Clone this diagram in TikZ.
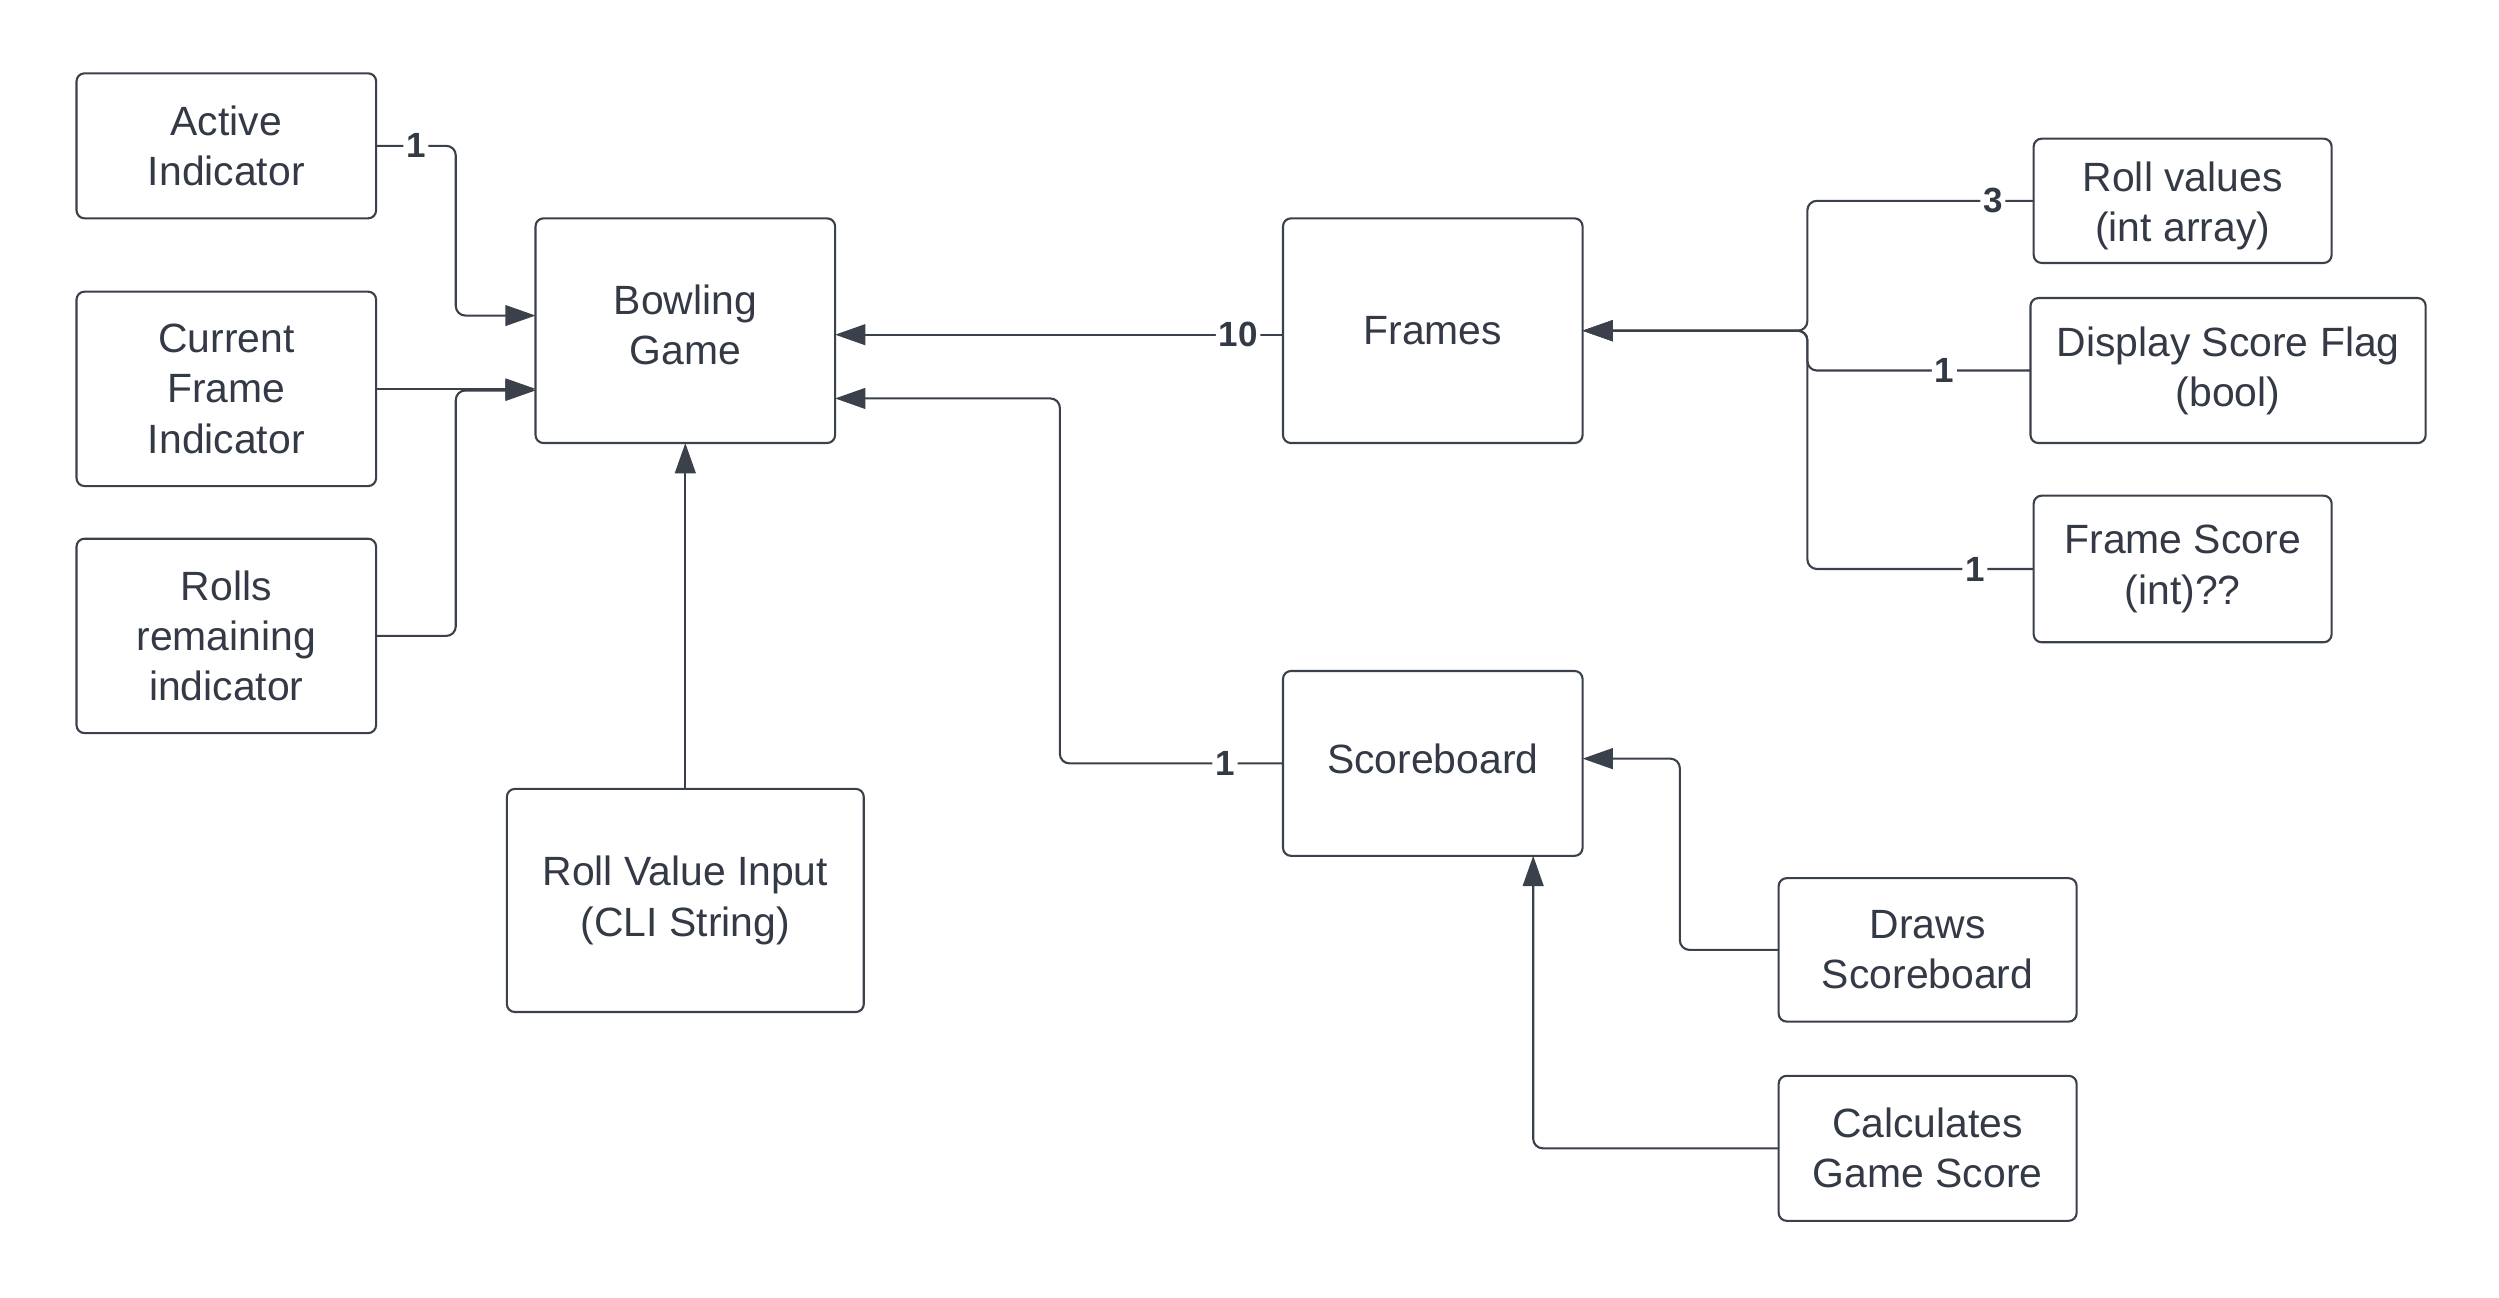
\documentclass[tikz,border=0pt]{standalone}
\usepackage{fontspec}
\setmainfont{Liberation Sans}
\usetikzlibrary{arrows.meta,calc}
\definecolor{ln}{HTML}{3A414A}
\definecolor{tx}{HTML}{333A45}
\begin{document}
\begin{tikzpicture}[x=0.02cm,y=-0.02cm,
  box/.style={draw=ln, line width=0.75pt, rounded corners=0.1cm, align=center, text=tx,
    font=\fontsize{14.6}{17.9}\selectfont, inner sep=2pt, outer sep=0pt},
  conn/.style={draw=ln, line width=0.75pt, rounded corners=0.12cm},
  arr/.style={conn, -{Triangle[length=0.38cm,width=0.26cm]}},
  lbl/.style={fill=white, inner sep=1pt, text=tx, font=\fontsize{12.5}{14}\selectfont\bfseries}]
\useasboundingbox (0,0) rectangle (1568,814);

% boxes
\node[box, minimum width=3.76cm, minimum height=1.82cm] (act) at (142,91.5) {Active\\Indicator};
\node[box, minimum width=3.76cm, minimum height=2.44cm] (cur) at (142,244) {Current\\Frame\\Indicator};
\node[box, minimum width=3.76cm, minimum height=2.44cm] (rol) at (142,399) {Rolls\\remaining\\indicator};
\node[box, minimum width=3.76cm, minimum height=2.82cm] (bg) at (430,207.5) {};
\node[align=center, text=tx, font=\fontsize{14.6}{17.9}\selectfont] (bgt) at (430,204) {Bowling\\Game};
\node[box, minimum width=4.48cm, minimum height=2.80cm] (rvi) at (430,565) {Roll Value Input\\(CLI String)};
\node[box, minimum width=3.76cm, minimum height=2.82cm] (fr) at (899,207.5) {Frames};
\node[box, minimum width=3.76cm, minimum height=2.32cm] (sb) at (899,479) {};
\node[text=tx, font=\fontsize{14.6}{17.9}\selectfont] (sbt) at (899,476) {Scoreboard};
\node[box, minimum width=3.74cm, minimum height=1.56cm] (rv) at (1369.5,126) {};
\node[align=center, text=tx, font=\fontsize{14.6}{17.9}\selectfont] (rvt) at (1369.5,129) {Roll values\\(int array)};
\node[box, minimum width=4.96cm, minimum height=1.82cm] (dsf) at (1398,232.5) {Display Score Flag\\(bool)};
\node[box, minimum width=3.74cm, minimum height=1.84cm] (fs) at (1369.5,357) {Frame Score\\(int)??};
\node[box, minimum width=3.74cm, minimum height=1.80cm] (ds) at (1209.5,596) {Draws\\Scoreboard};
\node[box, minimum width=3.74cm, minimum height=1.82cm] (cgs) at (1209.5,720.5) {Calculates\\Game Score};

% connectors into Bowling Game
\draw[arr] (act.east) -- node[lbl]{1} ++(50,0) |- ($(bg.west)+(0,-9.5)$);
\draw[arr] (cur.east) -- (cur.east -| bg.west);
\draw[arr] (rol.east) -- ++(50,0) |- ($(bg.west)+(0,37.5)$);
\draw[arr] ($(fr.west)+(0,2.5)$) -- node[lbl,pos=0.1]{10} ($(bg.east)+(0,2.5)$);
\draw[arr] (sb.west) -- node[lbl,pos=0.26]{1} ++(-140,0) |- ($(bg.east)+(0,42.5)$);
\draw[arr] (rvi.north) -- (bg.south);

% connectors into Frames
\draw[arr] (rv.west) -- node[lbl,pos=0.18]{3} ++(-142,0) |- (fr.east);
\draw[arr] (dsf.west) -- node[lbl,pos=0.386]{1} ++(-140,0) |- (fr.east);
\draw[arr] (fs.west) -- node[lbl,pos=0.26]{1} ++(-142,0) |- (fr.east);

% connectors into Scoreboard
\draw[arr] (ds.west) -- ++(-62,0) |- ($(sb.east)+(0,-3)$);
\draw[arr] (cgs.west) -| ($(sb.south)+(63,0)$);
\end{tikzpicture}
\end{document}
